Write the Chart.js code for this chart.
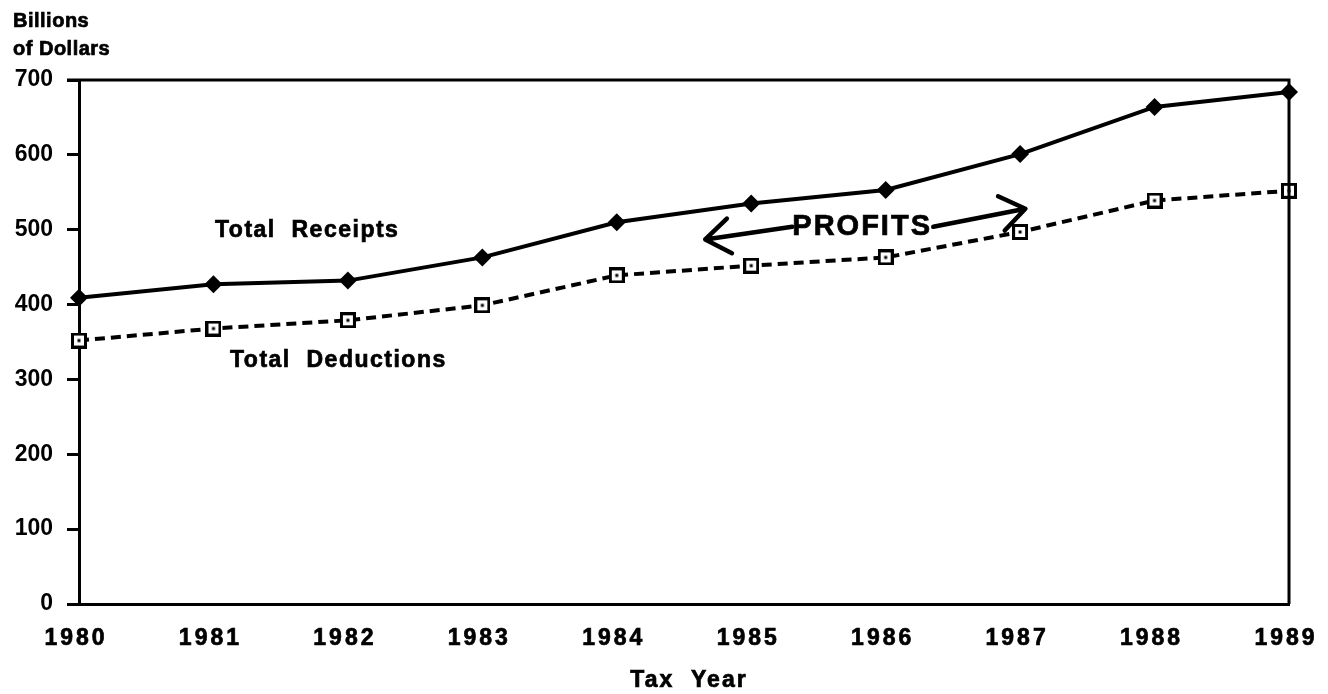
<!DOCTYPE html>
<html>
<head>
<meta charset="utf-8">
<script src="https://cdn.jsdelivr.net/npm/chart.js@4"></script>
<style>
  html, body { margin: 0; padding: 0; background: #fff; }
  #wrap { width: 1328px; height: 694px; position: relative; }
</style>
</head>
<body>
<div id="wrap"><canvas id="grafico" width="1328" height="694"></canvas></div>
<script>
// dados (bilhoes de dolares)
const anos = ['1980', '1981', '1982', '1983', '1984', '1985', '1986', '1987', '1988', '1989'];
const receitas = [409, 427, 432, 463, 510, 535, 553, 601, 664, 684];
const deducoes = [352, 368, 379, 399, 439, 452, 463, 497, 539, 552];
const ticksY = [0, 100, 200, 300, 400, 500, 600, 700];

const FONTE = '"Liberation Sans", Arial, Helvetica, sans-serif';

// marcador quadrado com ponto no meio
function criarMarcador() {
    const c = document.createElement('canvas');
    c.width = 16; c.height = 16;
    const g = c.getContext('2d');
    g.fillStyle = '#000';
    g.fillRect(0, 0, 16, 16);
    g.fillStyle = '#fff';
    g.fillRect(3, 3, 10, 10);
    g.fillStyle = '#000';
    g.fillRect(6.5, 6.5, 3, 3);
    return c;
}

function seta(ctx, x1, y1, x2, y2) {
    const ang = Math.atan2(y2 - y1, x2 - x1);
    const tam = 30;
    ctx.beginPath();
    ctx.moveTo(x1, y1);
    ctx.lineTo(x2, y2);
    ctx.moveTo(x2 - tam * Math.cos(ang - 0.62), y2 - tam * Math.sin(ang - 0.62));
    ctx.lineTo(x2, y2);
    ctx.lineTo(x2 - tam * Math.cos(ang + 0.62), y2 - tam * Math.sin(ang + 0.62));
    ctx.stroke();
}

// texto em negrito mais pesado, como no impresso
function textoForte(ctx, txt, x, y) {
    ctx.fillText(txt, x, y);
    ctx.strokeText(txt, x, y);
}

const anotacoes = {
    id: 'anotacoes',
    afterDraw(chart) {
        const ctx = chart.ctx;
        const xs = chart.scales.x, ys = chart.scales.y;
        const a = chart.chartArea;
        const px = v => xs.getPixelForValue(v);
        const py = v => ys.getPixelForValue(v);
        ctx.save();

        // moldura de cima e da direita
        ctx.strokeStyle = '#000';
        ctx.lineWidth = 3;
        ctx.beginPath();
        ctx.moveTo(a.left - 12, a.top);
        ctx.lineTo(a.right, a.top);
        ctx.lineTo(a.right, a.bottom);
        ctx.stroke();

        ctx.fillStyle = '#000';
        ctx.textBaseline = 'alphabetic';
        ctx.lineWidth = 0.7;

        // rotulos dos anos, espaçados
        ctx.font = 'bold 23px ' + FONTE;
        ctx.letterSpacing = '3px';
        ctx.textAlign = 'center';
        anos.forEach((ano, i) => {
            textoForte(ctx, ano, xs.getPixelForTick(i) - 3, 645);
        });

        // titulo do eixo y
        ctx.font = 'bold 20px ' + FONTE;
        ctx.letterSpacing = '0.5px';
        ctx.textAlign = 'left';
        textoForte(ctx, 'Billions', 13, 27);
        textoForte(ctx, 'of Dollars', 13, 55);

        // titulo do eixo x
        ctx.font = 'bold 23px ' + FONTE;
        ctx.textAlign = 'center';
        ctx.letterSpacing = '2px';
        textoForte(ctx, 'Tax  Year', 689, 687);

        // rotulos das series
        ctx.font = 'bold 23px ' + FONTE;
        ctx.letterSpacing = '1.5px';
        ctx.textAlign = 'left';
        textoForte(ctx, 'Total  Receipts', 215, 237);
        textoForte(ctx, 'Total  Deductions', 230, 367);

        // PROFITS com setas
        ctx.font = 'bold 29px ' + FONTE;
        ctx.letterSpacing = '2px';
        ctx.textAlign = 'center';
        textoForte(ctx, 'PROFITS', px(5.825), py(507) + 11);
        ctx.letterSpacing = '0px';
        ctx.lineWidth = 4.5;
        ctx.lineCap = 'round';
        ctx.lineJoin = 'round';
        seta(ctx, px(5.305), py(504), px(4.658), py(487));
        seta(ctx, px(6.354), py(504), px(7.039), py(528));

        ctx.restore();
    }
};

const ctx = document.getElementById('grafico').getContext('2d');
new Chart(ctx, {
    type: 'line',
    data: {
        labels: anos,
        datasets: [
            {
                label: 'Total Receipts',
                data: receitas,
                borderColor: '#000',
                backgroundColor: '#000',
                borderWidth: 4,
                pointStyle: 'rectRot',
                pointRadius: 9,
                pointBackgroundColor: '#000',
                pointBorderWidth: 0,
                tension: 0
            },
            {
                label: 'Total Deductions',
                data: deducoes,
                borderColor: '#000',
                borderWidth: 4,
                borderDash: [10, 6],
                pointStyle: criarMarcador(),
                tension: 0
            }
        ]
    },
    options: {
        responsive: false,
        animation: false,
        layout: { padding: { left: 0, top: 80, right: 39, bottom: 0 } },
        plugins: {
            legend: { display: false },
            tooltip: { enabled: false }
        },
        scales: {
            x: {
                offset: false,
                grid: { display: false, drawTicks: false },
                border: { display: true, color: '#000', width: 3 },
                ticks: { display: false, autoSkip: false },
                afterFit(scale) { scale.height = 90; }
            },
            y: {
                min: 0,
                max: 700,
                afterBuildTicks(scale) { scale.ticks = ticksY.map(v => ({ value: v })); },
                grid: {
                    drawOnChartArea: false,
                    drawTicks: true,
                    tickLength: 12,
                    color: '#000',
                    lineWidth: 3
                },
                border: { display: true, color: '#000', width: 3 },
                ticks: {
                    color: '#000',
                    font: { family: FONTE, size: 23, weight: 'bold' },
                    padding: 14
                },
                afterFit(scale) { scale.width = 79; }
            }
        }
    },
    plugins: [anotacoes]
});
</script>
</body>
</html>
